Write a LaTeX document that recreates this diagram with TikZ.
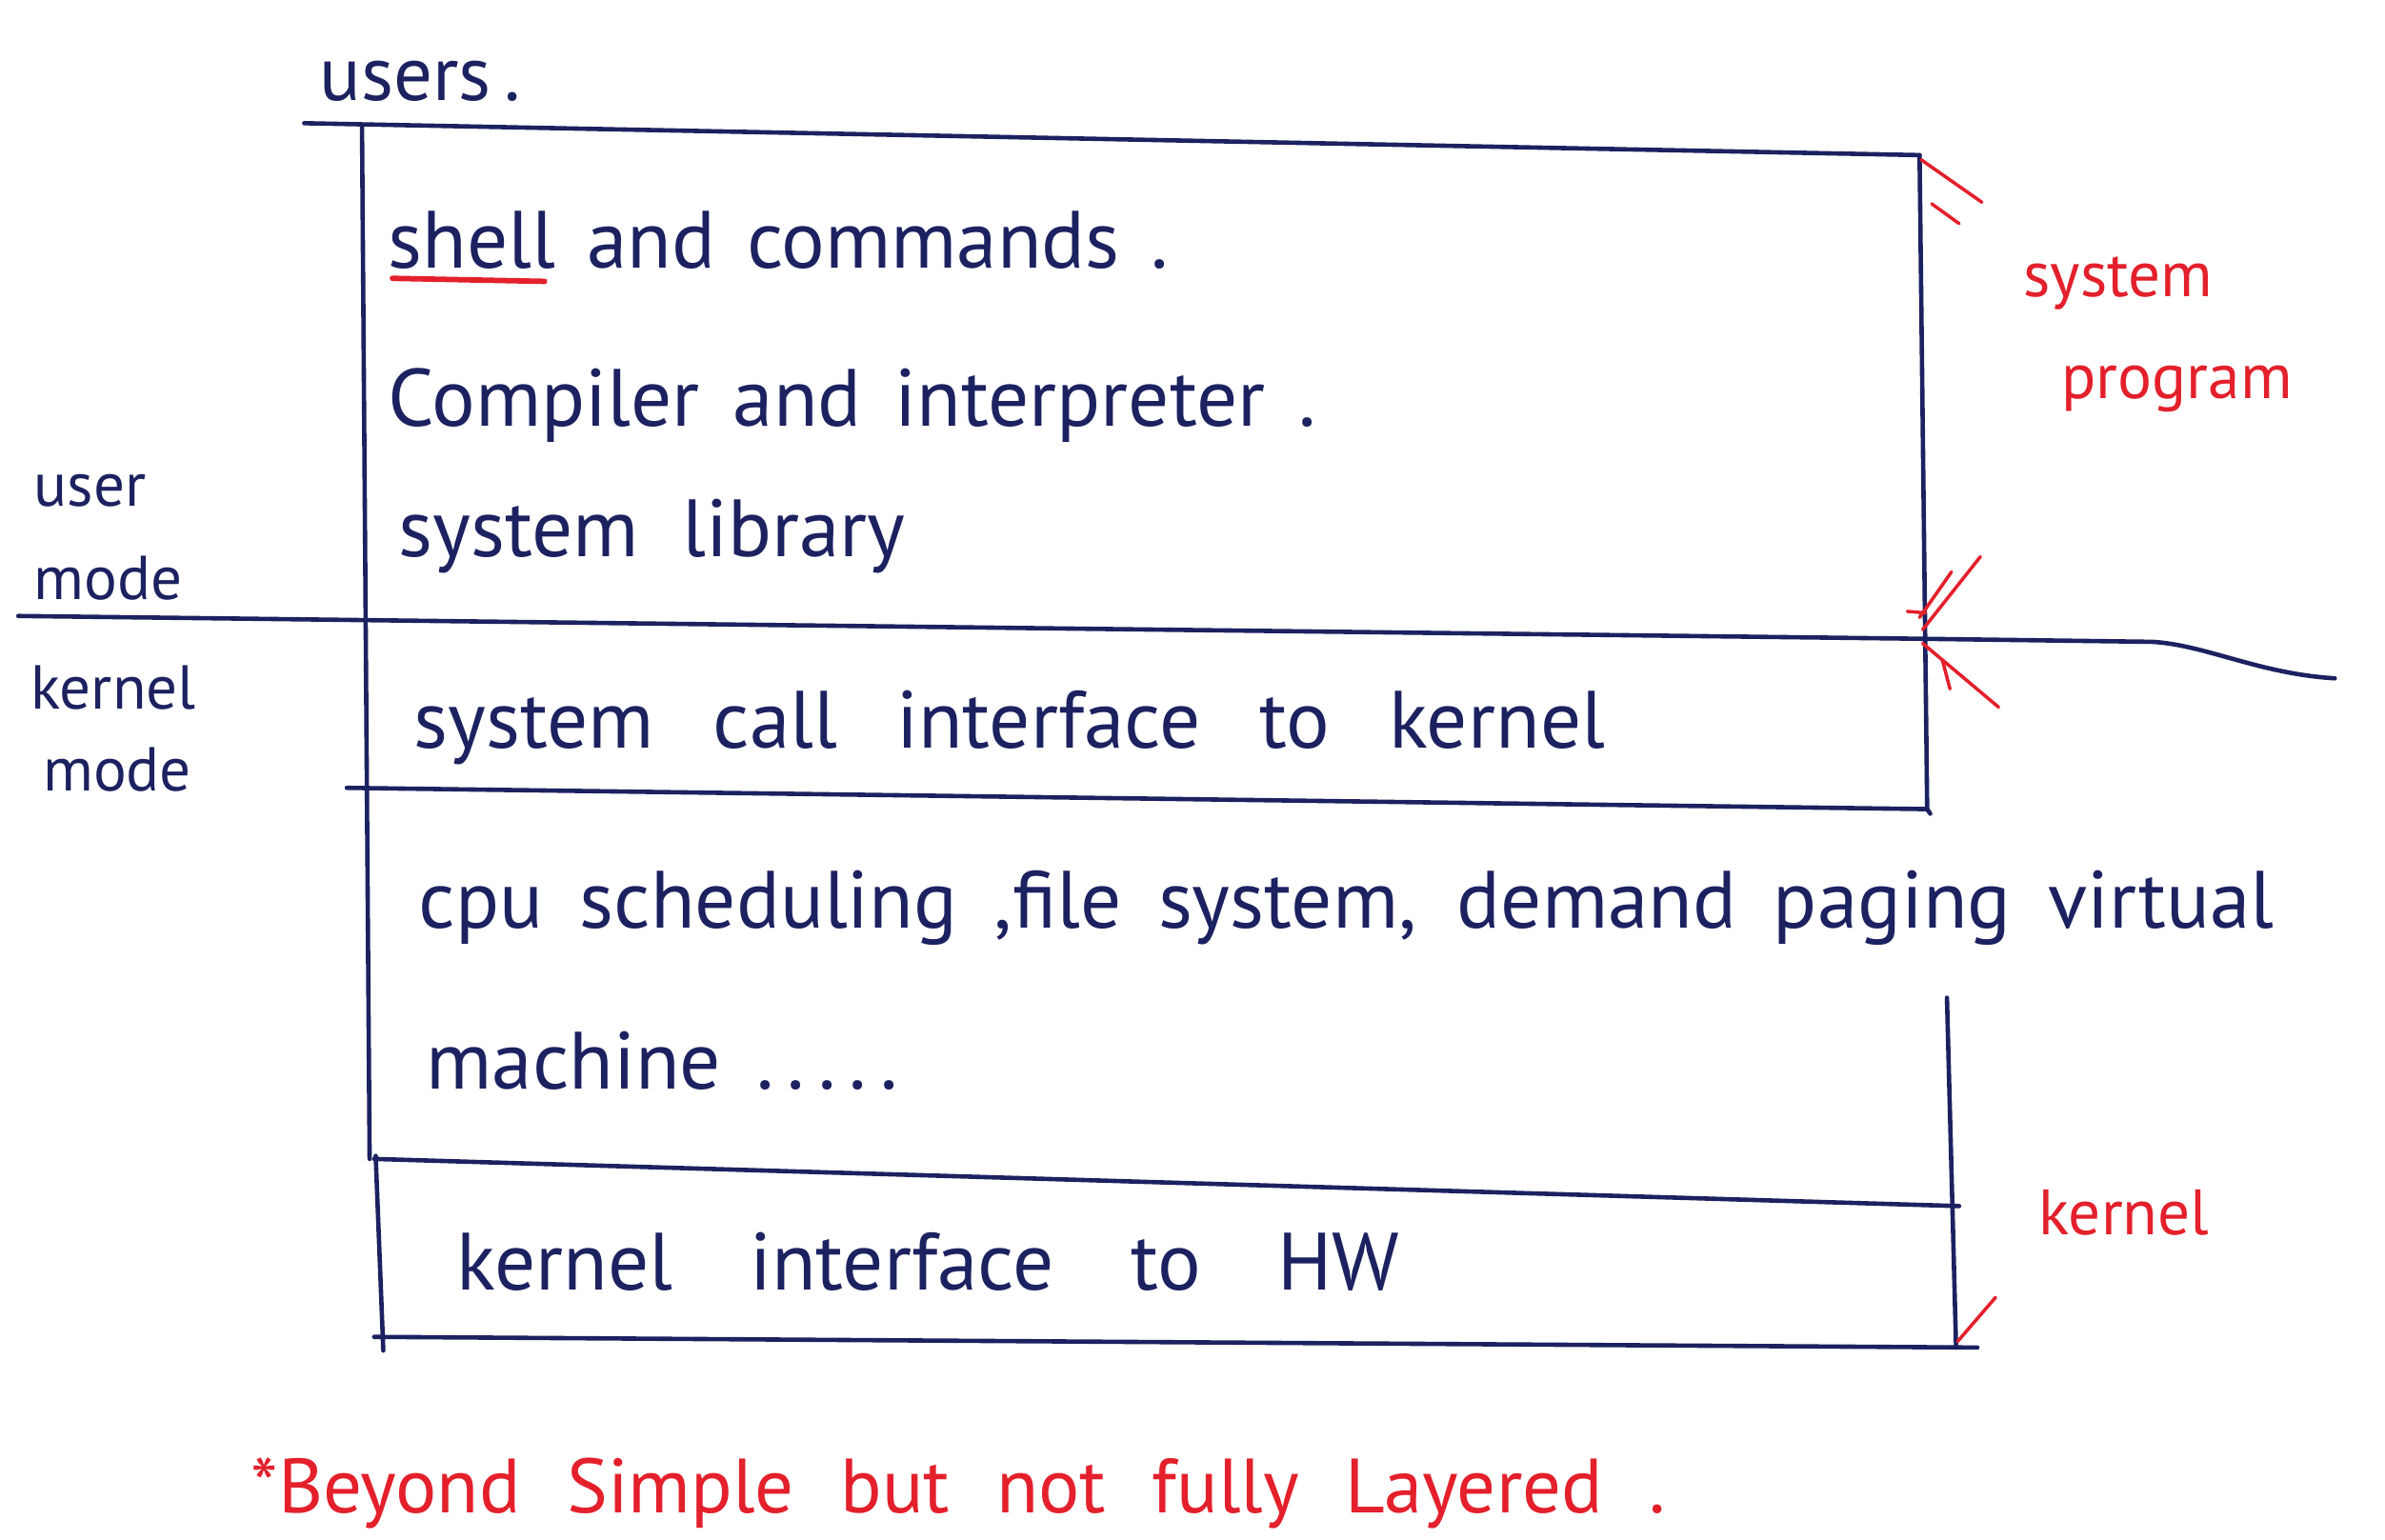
\documentclass[tikz,border=0pt]{standalone}
\usepackage{fontspec}
\setmainfont{PT Sans}
\usetikzlibrary{calc}
\definecolor{ink}{HTML}{1C2160}
\definecolor{pen}{HTML}{E3202B}
\newlength\px
\setlength\px{0.25mm}
% a line of words spread to a given width (in drawing units)
\newcommand\spreadline[2]{\makebox[#1\px][s]{#2}}
\tikzset{
  rule/.style={draw=ink, line width=0.72mm, line cap=round, line join=round},
  redpen/.style={draw=pen, line width=0.55mm, line cap=round},
  hand/.style={anchor=base west, inner sep=0pt, text=ink, font=\fontsize{38}{40}\selectfont},
  side/.style={anchor=base west, inner sep=0pt, text=ink, font=\fontsize{29}{31}\selectfont},
  remark/.style={anchor=base west, inner sep=0pt, text=pen, font=\fontsize{36}{38}\selectfont},
  margin/.style={anchor=base west, inner sep=0pt, text=pen, font=\fontsize{30}{32}\selectfont},
}
\begin{document}
\begin{tikzpicture}[x=0.25mm, y=-0.25mm]
\useasboundingbox[fill=white] (0,0) rectangle (1568,1012);

% frame corners and rule end points
\coordinate (topL) at (200,81);
\coordinate (tl) at (238,83);
\coordinate (tr) at (1262,102);
\coordinate (ml) at (12,405);
\coordinate (mr) at (1263,420);
\coordinate (mk) at (1415,422);
\coordinate (mend) at (1535,446);
\coordinate (sl) at (228,518);
\coordinate (sr) at (1267,532);
\coordinate (cl) at (243,762);
\coordinate (hl) at (246,762);
\coordinate (hr) at (1288,793);
\coordinate (lowTop) at (247,760);
\coordinate (lowBot) at (252,888);
\coordinate (kl) at (1280,656);
\coordinate (kr) at (1286,886);
\coordinate (bl) at (246,879);
\coordinate (br) at (1300,886);

% the layered frame
\draw[rule] (topL) -- (tr);
\draw[rule] (tl) -- (cl);
\draw[rule] (tr) -- (sr);
\draw[rule] (ml) -- (mr) -- (mk) .. controls (1450,424) and (1485,443) .. (mend);
\draw[rule] (sl) -- (sr) -- ++(2,3);
\draw[rule] (hl) -- (hr);
\draw[rule] (lowTop) -- (lowBot);
\draw[rule] (kl) -- (kr);
\draw[rule] (bl) -- (br);

% header and mode labels
\node[hand, font=\fontsize{36}{38}\selectfont] (users) at (210,66) {users\,.};
\node[side] (umode1) at (22,333) {user};
\node[side] (umode2) at (22,394) {mode};
\node[side] (kmode1) at (20,466) {kernel};
\node[side] (kmode2) at (28,520) {mode};

% layer contents
\node[hand] (shell) at (255,176) {\spreadline{513}{shell and commands .}};
\node[hand] (comp) at (255,280) {\spreadline{610}{Compiler and interpreter .}};
\node[hand] (lib) at (262,366) {\spreadline{333}{system library}};
\node[hand] (sci) at (272,492) {\spreadline{783}{system call interface to kernel}};
\node[hand] (cpu) at (275,610) {\spreadline{1220}{cpu scheduling ,file system, demand paging virtual}};
\node[hand] (mach) at (280,716) {machine \,.\,.\,.\,.\,.};
\node[hand] (khw) at (300,848) {\spreadline{620}{kernel interface to HW}};

% red annotations
\draw[redpen, line width=0.9mm] (258,183) -- (358,185);
\node[margin] (sysprog1) at (1330,195) {system};
\node[margin] (sysprog2) at (1355,262) {program};
\node[margin] (kern) at (1340,812) {kernel};
\node[remark] (note) at (165,995) {\spreadline{930}{*Beyond Simple but not fully Layered .}};

% range marks for the system program span
\draw[redpen] ($(tr)+(1,3)$) -- ++(40,28);
\draw[redpen] ($(tr)+(8,32)$) -- ++(18,13);
\draw[redpen] ($(mr)+(39,-54)$) -- ($(mr)+(1,-6)$);
\draw[redpen] ($(mr)+(20,-44)$) -- ($(mr)+(-1,-14)$);
\draw[redpen] ($(mr)+(-9,-18)$) -- ++(12,1);

% range marks for the kernel span
\draw[redpen] ($(mr)+(1,3)$) -- ++(50,42);
\draw[redpen] ($(mr)+(14,14)$) -- ++(5,19);
\draw[redpen] ($(kr)+(26,-33)$) -- ($(kr)+(1,-4)$);
\end{tikzpicture}
\end{document}
